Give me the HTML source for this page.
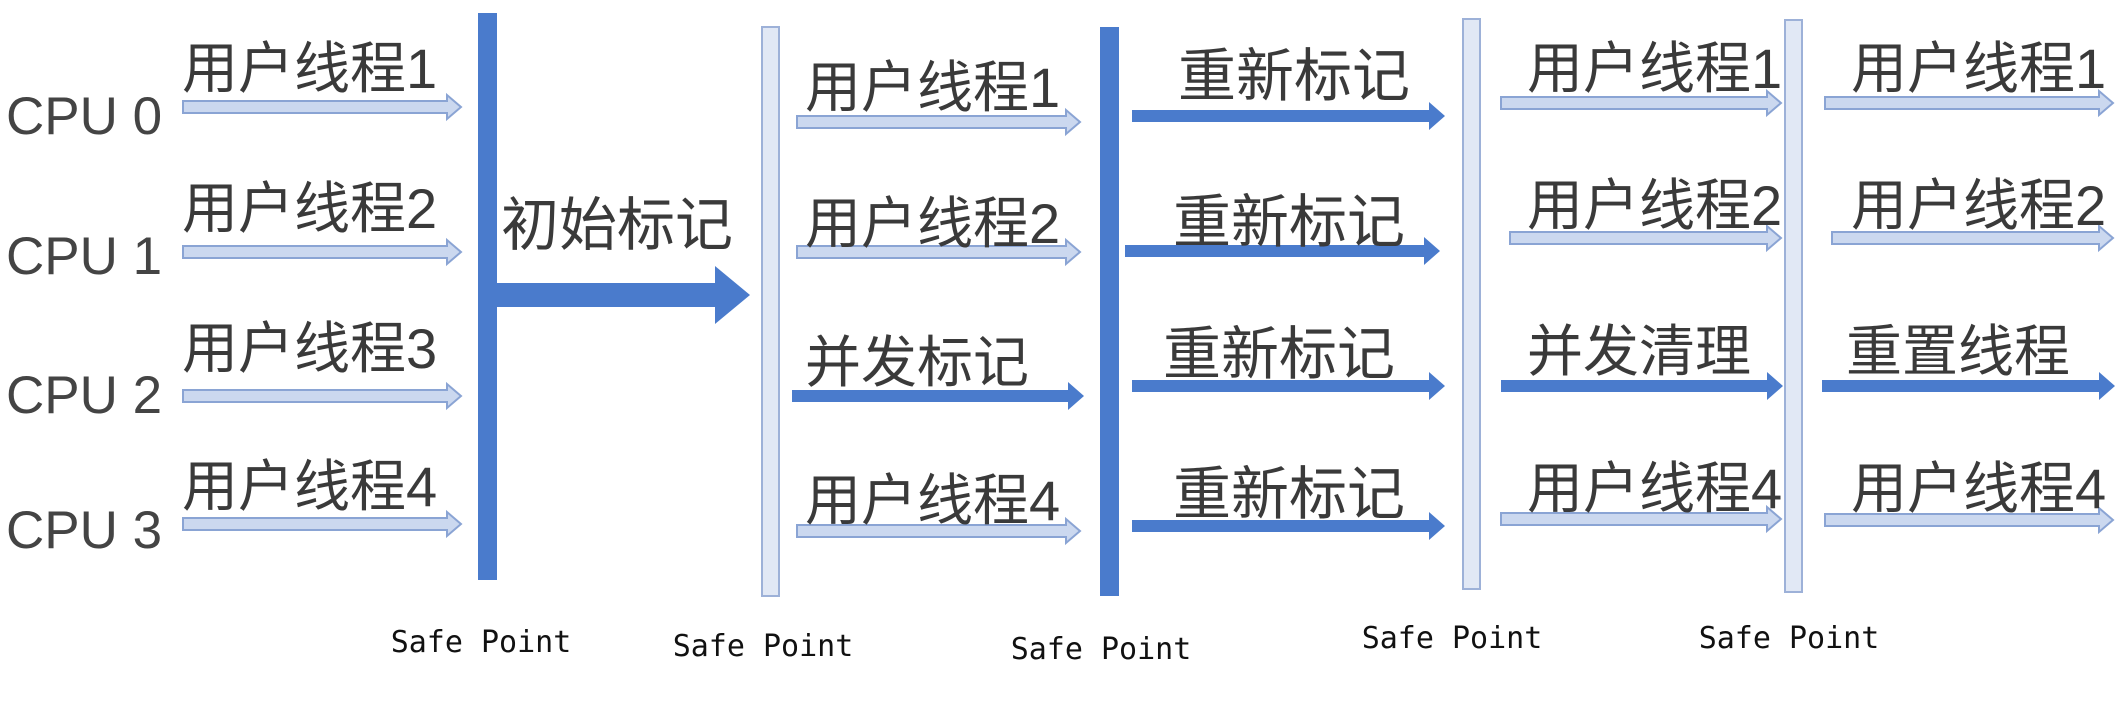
<!DOCTYPE html>
<html><head><meta charset="utf-8"><style>
html,body{margin:0;padding:0;background:#fff;width:2124px;height:701px;overflow:hidden}
svg{display:block}
.cpu{font-family:"Liberation Sans","Noto Sans CJK SC",sans-serif;font-size:53px;fill:#444}
.lb{font-family:"Liberation Sans","Noto Sans CJK SC",sans-serif;font-size:56px;fill:#3a3a3a}
.sp{font-family:"DejaVu Sans Mono","Liberation Mono",monospace;font-size:30px;fill:#111}
.h{fill:#cbd8ef;stroke:#8aa4d4;stroke-width:2}
.s{fill:#4a7bcc}
.bd{fill:#4a7bcc}
.bl{fill:#e1e8f5;stroke:#9db1d8;stroke-width:2}
</style></head><body>
<svg width="2124" height="701" viewBox="0 0 2124 701">
<text class="cpu" x="6" y="134">CPU 0</text>
<text class="cpu" x="6" y="274">CPU 1</text>
<text class="cpu" x="6" y="413">CPU 2</text>
<text class="cpu" x="6" y="548">CPU 3</text>

<rect class="bd" x="478" y="13" width="19" height="567"/>
<rect class="bl" x="762" y="27" width="17" height="569"/>
<rect class="bd" x="1100" y="27" width="19" height="569"/>
<rect class="bl" x="1463" y="19" width="17" height="570"/>
<rect class="bl" x="1785" y="20" width="17" height="572"/>

<g class="h">
<path d="M183,101 L447,101 L447,95 L461,107 L447,119 L447,113 L183,113 Z"/>
<path d="M183,246 L447,246 L447,240 L461,252 L447,264 L447,258 L183,258 Z"/>
<path d="M183,390 L447,390 L447,384 L461,396 L447,408 L447,402 L183,402 Z"/>
<path d="M183,518 L447,518 L447,512 L461,524 L447,536 L447,530 L183,530 Z"/>
<path d="M797,116 L1066,116 L1066,110 L1080,122 L1066,134 L1066,128 L797,128 Z"/>
<path d="M797,246 L1066,246 L1066,240 L1080,252 L1066,264 L1066,258 L797,258 Z"/>
<path d="M797,525 L1066,525 L1066,519 L1080,531 L1066,543 L1066,537 L797,537 Z"/>
<path d="M1501,97 L1767,97 L1767,91 L1781,103 L1767,115 L1767,109 L1501,109 Z"/>
<path d="M1510,232 L1767,232 L1767,226 L1781,238 L1767,250 L1767,244 L1510,244 Z"/>
<path d="M1501,513 L1767,513 L1767,507 L1781,519 L1767,531 L1767,525 L1501,525 Z"/>
<path d="M1825,97 L2099,97 L2099,91 L2113,103 L2099,115 L2099,109 L1825,109 Z"/>
<path d="M1832,232 L2099,232 L2099,226 L2113,238 L2099,250 L2099,244 L1832,244 Z"/>
<path d="M1825,514 L2099,514 L2099,508 L2113,520 L2099,532 L2099,526 L1825,526 Z"/>
</g>

<g class="s">
<path d="M496,283 L715,283 L715,266 L750,295 L715,324 L715,307 L496,307 Z"/>
<path d="M792,390 L1068,390 L1068,382 L1084,396 L1068,410 L1068,402 L792,402 Z"/>
<path d="M1132,110 L1429,110 L1429,102 L1445,116 L1429,130 L1429,122 L1132,122 Z"/>
<path d="M1125,245 L1424,245 L1424,237 L1440,251 L1424,265 L1424,257 L1125,257 Z"/>
<path d="M1132,380 L1429,380 L1429,372 L1445,386 L1429,400 L1429,392 L1132,392 Z"/>
<path d="M1132,520 L1429,520 L1429,512 L1445,526 L1429,540 L1429,532 L1132,532 Z"/>
<path d="M1501,380 L1767,380 L1767,372 L1783,386 L1767,400 L1767,392 L1501,392 Z"/>
<path d="M1822,380 L2099,380 L2099,372 L2115,386 L2099,400 L2099,392 L1822,392 Z"/>
</g>

<g class="lb">
<text x="182" y="88">用户线程1</text>
<text x="182" y="228">用户线程2</text>
<text x="182" y="368">用户线程3</text>
<text x="182" y="506">用户线程4</text>

<text x="501" y="245" style="font-size:58px">初始标记</text>

<text x="805" y="107">用户线程1</text>
<text x="805" y="243">用户线程2</text>
<text x="805" y="382">并发标记</text>
<text x="805" y="520">用户线程4</text>

<text x="1178" y="96" style="font-size:58px">重新标记</text>
<text x="1173" y="242" style="font-size:58px">重新标记</text>
<text x="1163" y="374" style="font-size:58px">重新标记</text>
<text x="1173" y="514" style="font-size:58px">重新标记</text>

<text x="1527" y="88">用户线程1</text>
<text x="1527" y="225">用户线程2</text>
<text x="1527" y="371">并发清理</text>
<text x="1527" y="508">用户线程4</text>

<text x="1851" y="88">用户线程1</text>
<text x="1851" y="225">用户线程2</text>
<text x="1846" y="371">重置线程</text>
<text x="1851" y="508">用户线程4</text>
</g>

<g class="sp" text-anchor="middle">
<text x="481" y="652">Safe Point</text>
<text x="763" y="656">Safe Point</text>
<text x="1101" y="659">Safe Point</text>
<text x="1452" y="648">Safe Point</text>
<text x="1789" y="648">Safe Point</text>
</g>
</svg>
</body></html>
